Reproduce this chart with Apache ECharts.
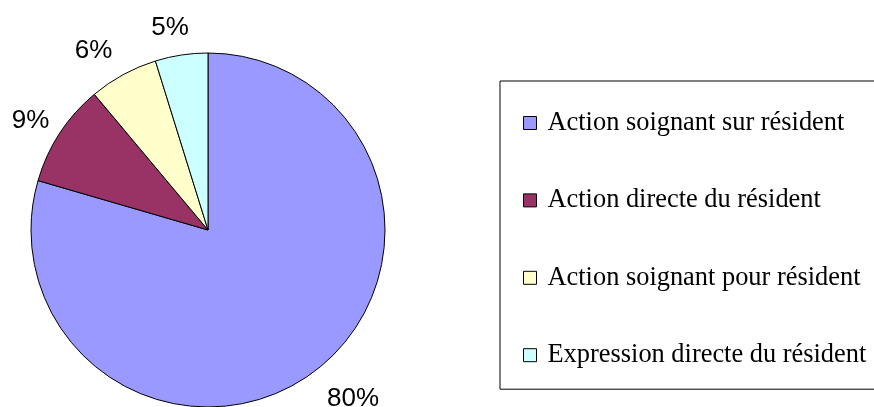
<!DOCTYPE html>
<html>
<head>
<meta charset="utf-8">
<script src="https://cdn.jsdelivr.net/npm/echarts@6/dist/echarts.min.js"></script>
<style>html,body{margin:0;padding:0;background:#fff;}#c{width:874px;height:407px;}</style>
</head>
<body>
<div id="c"></div>
<script>
const categories = ['Action soignant sur résident', 'Action directe du résident', 'Action soignant pour résident', 'Expression directe du résident'];
const values = [79.5, 9.4, 6.3, 4.8];
const colors = ['#9999FF', '#993366', '#FFFFCC', '#CCFFFF'];
const labelRadialOffsets = [33.7, 22.5, 26.9, 27.3];
const labelSideShifts = [-7.5, -8.4, -2, -11.5];

const chart = echarts.init(document.getElementById('c'), null, {renderer: 'canvas'});
chart.setOption({
  animation: false,
  backgroundColor: '#fff',
  legend: {
    orient: 'vertical',
    left: 500,
    top: 81,
    padding: [29, 30, 21, 23],
    itemGap: 51.4,
    itemWidth: 13,
    itemHeight: 13,
    icon: 'rect',
    borderColor: '#000',
    borderWidth: 1,
    itemStyle: {borderColor: '#000', borderWidth: 1},
    textStyle: {fontFamily: 'Liberation Serif', fontSize: 26.4, lineHeight: 26, color: '#000', padding: [0, 0, 0, 6]},
    data: categories
  },
  series: [{
    type: 'pie',
    center: [208, 230],
    radius: [0, 177],
    startAngle: 90,
    clockwise: true,
    avoidLabelOverlap: false,
    percentPrecision: 0,
    itemStyle: {borderColor: '#000', borderWidth: 1},
    label: {
      show: true,
      position: 'outside',
      formatter: '{d}%',
      fontFamily: 'Liberation Sans',
      fontSize: 26,
      color: '#000'
    },
    labelLine: {show: false, length: 30, length2: 0},
    emphasis: {disabled: true},
    data: categories.map((name, i) => ({
      name: name,
      value: values[i],
      itemStyle: {color: colors[i]},
      label: {distanceToLabelLine: labelSideShifts[i]},
      labelLine: {show: false, length: labelRadialOffsets[i], length2: 0}
    }))
  }]
});
</script>
</body>
</html>
